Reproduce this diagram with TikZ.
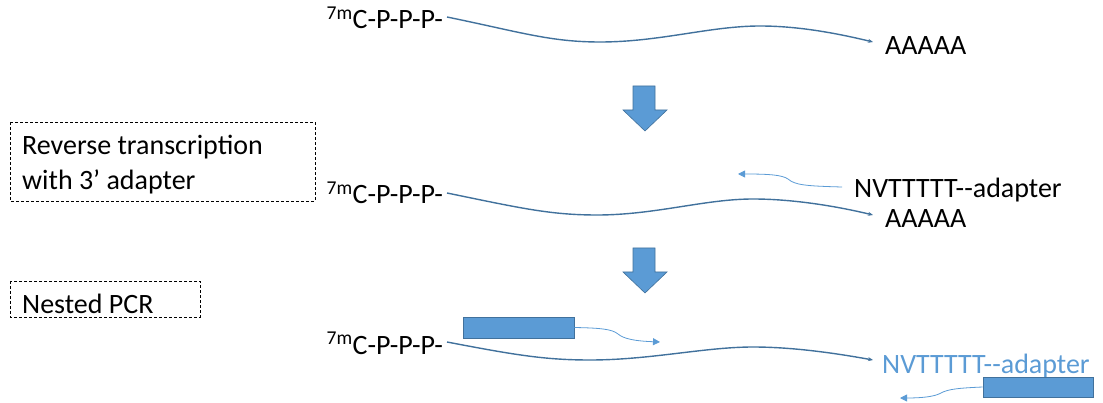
\documentclass[tikz,border=0pt]{standalone}
\usepackage{fontspec}
\setmainfont{Carlito}
\usepackage{xcolor}
\usepackage{tikz}
\usetikzlibrary{arrows.meta,positioning}

\definecolor{rnaline}{HTML}{41719C}
\definecolor{primerblue}{HTML}{5B9BD5}

\tikzset{
  txt/.style={inner sep=0pt,font=\fontsize{28}{33}\selectfont},
  stepnote/.style={draw,dash pattern=on 3pt off 2pt,line width=0.8pt},
  rna/.style={draw=rnaline,line width=1.4pt,-{Stealth[length=5pt,width=4pt]}},
  extend/.style={draw=primerblue,line width=0.8pt,-{Triangle[length=7pt,width=7pt]}},
  primer/.style={draw=rnaline,fill=primerblue,line width=0.6pt,inner sep=0pt,
    minimum width=111pt,minimum height=21pt},
  bigarrow/.style={draw=rnaline,fill=primerblue,line width=0.6pt}
}
\newcommand{\capfive}{\textsuperscript{7m}C-P-P-P-}
\newcommand{\adaptertxt}{NVTTTTT-{}-adapter}

\begin{document}
\begin{tikzpicture}[x=1pt,y=-1pt]
  \useasboundingbox (0,0) rectangle (1103,403);

  % step boxes
  \draw [stepnote] (10,122) rectangle (315,201);
  \node [txt,anchor=base west] (rtA) at (22,155) {Reverse transcription};
  \node [txt,anchor=base west] (rtB) at (22,190) {with 3' adapter};
  \draw [stepnote] (10,281) rectangle (200,317);
  \node [txt,anchor=base west] (pcr) at (22,313) {Nested PCR};

  % mRNA
  \node [txt,anchor=base east] (cap1) at (443,29) {\capfive};
  \node [txt,anchor=base west] (polyA1) at (885,55) {AAAAA};
  \coordinate (s1) at (447,17);
  \coordinate (e1) at (873,42);
  \draw [rna] (s1) .. controls (520,32) and (550,42) .. (600,42)
    .. controls (660,42) and (710,26) .. (760,26)
    .. controls (800,26) and (840,34) .. (e1);

  \draw [bigarrow] (633,86) -- (655,86) -- (655,110) -- (667,110) -- (645,131)
    -- (623,110) -- (633,110) -- cycle;

  % reverse transcription
  \node [txt,anchor=base east] (cap2) at (443,204) {\capfive};
  \node [txt,anchor=base west] (polyA2) at (885,228) {AAAAA};
  \node [txt,anchor=base west] (nv2) at (854,198) {\adaptertxt};
  \coordinate (s2) at (447,193);
  \coordinate (e2) at (873,215);
  \draw [rna] (s2) .. controls (520,208) and (550,215) .. (597,215)
    .. controls (655,215) and (705,199) .. (753,199)
    .. controls (795,199) and (840,207) .. (e2);
  \coordinate (rt0) at (842,187);
  \coordinate (rt1) at (738,174);
  \draw [extend] (rt0) .. controls (805,186) and (795,185) .. (788,179)
    .. controls (782,175) and (770,174) .. (rt1);

  \draw [bigarrow] (633,248) -- (655,248) -- (655,272) -- (667,272) -- (645,293)
    -- (623,272) -- (633,272) -- cycle;

  % nested PCR
  \node [txt,anchor=base east] (cap3) at (443,354) {\capfive};
  \node [txt,anchor=base west,text=primerblue] (nv3) at (882,373) {\adaptertxt};
  \coordinate (s3) at (447,342);
  \coordinate (e3) at (873,360);
  \draw [rna] (s3) .. controls (515,355) and (545,360) .. (590,360)
    .. controls (650,360) and (705,347) .. (753,347)
    .. controls (795,347) and (840,354) .. (e3);
  \node [primer] (fwd) at (518.5,327.5) {};
  \node [primer,minimum width=110pt,minimum height=20pt] (rev) at (1038,387) {};
  \coordinate (f1) at (660,342);
  \coordinate (r1) at (900,398);
  \draw [extend] (fwd.east) .. controls (600,328) and (612,329) .. (618,334)
    .. controls (624,339) and (635,341) .. (f1);
  \draw [extend] (rev.west) .. controls (960,388) and (948,389) .. (941,393)
    .. controls (934,397) and (920,398) .. (r1);
\end{tikzpicture}
\end{document}
